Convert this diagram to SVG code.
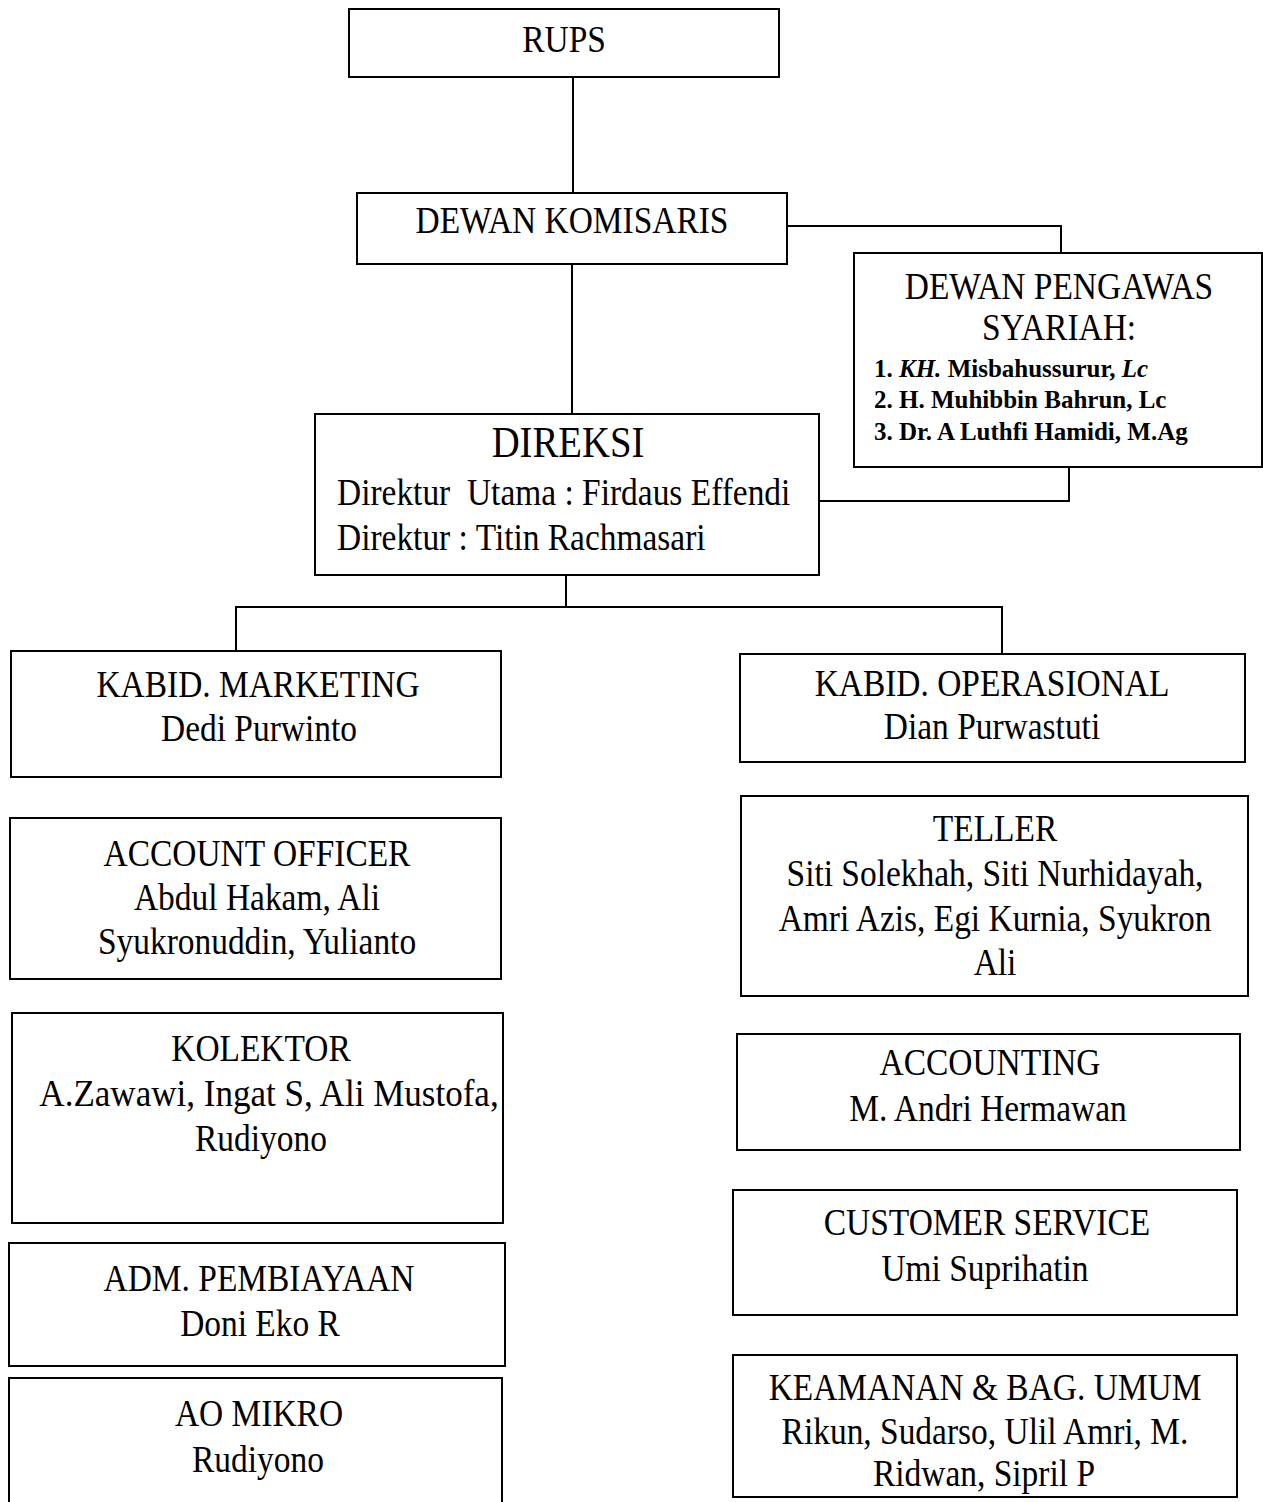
<svg xmlns="http://www.w3.org/2000/svg" width="1263" height="1502" viewBox="0 0 1263 1502">
<style>
.box{fill:#fff;stroke:#000;stroke-width:2}
.t{font-family:"Liberation Serif","Times New Roman",serif;font-size:38px;fill:#000;text-anchor:middle}
.l{text-anchor:start;white-space:pre}
.s{font-size:25px;font-weight:bold;text-anchor:start}
.big{font-size:44px}
.con{fill:none;stroke:#000;stroke-width:2}
</style>
<rect width="1263" height="1502" fill="#fff"/>
<g id="connectors">
<path class="con" d="M573 77V193"/>
<path class="con" d="M787 226H1061V253"/>
<path class="con" d="M572 264V414"/>
<path class="con" d="M1069 467V501H819"/>
<path class="con" d="M566 575V607"/>
<path class="con" d="M236 651V607H1002V655"/>
</g>
<g id="rups"><rect class="box" x="349" y="9" width="430" height="68"/>
<text class="t" transform="translate(564 52) scale(.88 1)">RUPS</text></g>
<g id="dewan-komisaris"><rect class="box" x="357" y="193" width="430" height="71"/>
<text class="t" transform="translate(572 233) scale(.88 1)">DEWAN KOMISARIS</text></g>
<g id="dps"><rect class="box" x="854" y="253" width="408" height="214"/>
<text class="t" transform="translate(1059 299) scale(.88 1)">DEWAN PENGAWAS</text>
<text class="t" transform="translate(1059 340) scale(.88 1)">SYARIAH:</text>
<text class="t s" x="874" y="377">1. <tspan font-style="italic">KH.</tspan> Misbahussurur, <tspan font-style="italic">Lc</tspan></text>
<text class="t s" x="874" y="408">2. H. Muhibbin Bahrun, Lc</text>
<text class="t s" x="874" y="440">3. Dr. A Luthfi Hamidi, M.Ag</text>
</g>
<g id="direksi"><rect class="box" x="315" y="414" width="504" height="161"/>
<text class="t big" transform="translate(568 457) scale(.88 1)">DIREKSI</text>
<text class="t l" transform="translate(337 505) scale(.88 1)">Direktur  Utama : Firdaus Effendi</text>
<text class="t l" transform="translate(337 550) scale(.88 1)">Direktur : Titin Rachmasari</text>
</g>
<g id="kabid-marketing"><rect class="box" x="11" y="651" width="490" height="126"/>
<text class="t" transform="translate(258 697) scale(.88 1)">KABID. MARKETING</text>
<text class="t" transform="translate(259 741) scale(.88 1)">Dedi Purwinto</text></g>
<g id="kabid-operasional"><rect class="box" x="740" y="654" width="505" height="108"/>
<text class="t" transform="translate(992 696) scale(.88 1)">KABID. OPERASIONAL</text>
<text class="t" transform="translate(992 739) scale(.88 1)">Dian Purwastuti</text></g>
<g id="account-officer"><rect class="box" x="10" y="818" width="491" height="161"/>
<text class="t" transform="translate(257 866) scale(.88 1)">ACCOUNT OFFICER</text>
<text class="t" transform="translate(257 910) scale(.88 1)">Abdul Hakam, Ali</text>
<text class="t" transform="translate(257 954) scale(.88 1)">Syukronuddin, Yulianto</text></g>
<g id="teller"><rect class="box" x="741" y="796" width="507" height="200"/>
<text class="t" transform="translate(995 841) scale(.88 1)">TELLER</text>
<text class="t" transform="translate(995 886) scale(.88 1)">Siti Solekhah, Siti Nurhidayah,</text>
<text class="t" transform="translate(995 931) scale(.88 1)">Amri Azis, Egi Kurnia, Syukron</text>
<text class="t" transform="translate(995 975) scale(.88 1)">Ali</text></g>
<g id="kolektor"><rect class="box" x="12" y="1013" width="491" height="210"/>
<text class="t" transform="translate(261 1061) scale(.88 1)">KOLEKTOR</text>
<text class="t" transform="translate(269 1106) scale(.88 1)" textLength="522" lengthAdjust="spacingAndGlyphs">A.Zawawi, Ingat S, Ali Mustofa,</text>
<text class="t" transform="translate(261 1151) scale(.88 1)">Rudiyono</text></g>
<g id="accounting"><rect class="box" x="737" y="1034" width="503" height="116"/>
<text class="t" transform="translate(990 1075) scale(.88 1)">ACCOUNTING</text>
<text class="t" transform="translate(988 1121) scale(.88 1)">M. Andri Hermawan</text></g>
<g id="adm-pembiayaan"><rect class="box" x="9" y="1243" width="496" height="123"/>
<text class="t" transform="translate(259 1291) scale(.88 1)">ADM. PEMBIAYAAN</text>
<text class="t" transform="translate(260 1336) scale(.88 1)">Doni Eko R</text></g>
<g id="customer-service"><rect class="box" x="733" y="1190" width="504" height="125"/>
<text class="t" transform="translate(987 1235) scale(.88 1)">CUSTOMER SERVICE</text>
<text class="t" transform="translate(985 1281) scale(.88 1)">Umi Suprihatin</text></g>
<g id="ao-mikro"><rect class="box" x="9" y="1378" width="493" height="134"/>
<text class="t" transform="translate(259 1426) scale(.88 1)">AO MIKRO</text>
<text class="t" transform="translate(258 1472) scale(.88 1)">Rudiyono</text></g>
<g id="keamanan"><rect class="box" x="733" y="1355" width="504" height="142"/>
<text class="t" transform="translate(985 1400) scale(.88 1)">KEAMANAN &amp; BAG. UMUM</text>
<text class="t" transform="translate(985 1444) scale(.88 1)">Rikun, Sudarso, Ulil Amri, M.</text>
<text class="t" transform="translate(984 1486) scale(.88 1)">Ridwan, Sipril P</text></g>
</svg>
